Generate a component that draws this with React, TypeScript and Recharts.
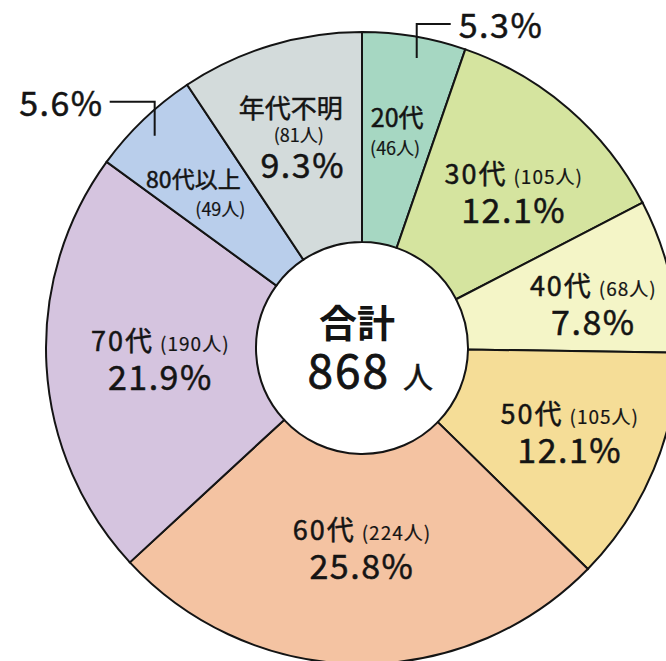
import React from "react"
import { PieChart, Pie, Cell } from "recharts"

const ageGroups = ["20代", "30代", "40代", "50代", "60代", "70代", "80代以上", "年代不明"]
const counts = [46, 105, 68, 105, 224, 190, 49, 81]
const percents = ["5.3%", "12.1%", "7.8%", "12.1%", "25.8%", "21.9%", "5.6%", "9.3%"]
const totalLabel = "868"

const colors = ["#a6d7c2", "#d5e49f", "#f4f5c7", "#f5dd97", "#f4c3a2", "#d5c4df", "#b9ceeb", "#d3dbdb"]

const data = ageGroups.map((name, i) => ({ name, value: counts[i], pct: percents[i] }))

const FONT = '"Noto Sans CJK JP", "Noto Sans", sans-serif'
const INK = "#141414"
const RAD = Math.PI / 180

// small nudges so labels sit where the original places them
const nudge: [number, number][] = [
  [0, 2], [13, 16], [25, 17], [12, 15], [3, 0], [10, 11], [-10, 7], [-5, 3],
]

// medium-ish weight: regular glyphs with a thin outline
const med = { stroke: INK, strokeWidth: 0.5, fill: INK, fontFamily: FONT }
const pctStyle = { ...med, fontSize: 34, letterSpacing: 1.5 }
const cntStyle = { fill: INK, fontFamily: FONT, fontSize: 18, stroke: INK, strokeWidth: 0.2 }

const renderLabel = (props: any) => {
  const { cx, cy, midAngle, index, payload } = props
  const r = 212
  const x = cx + r * Math.cos(-midAngle * RAD) + nudge[index][0]
  const y = cy + r * Math.sin(-midAngle * RAD) + nudge[index][1]
  const name = payload.name
  const count = `(${payload.value}人)`
  const pct = payload.pct

  if (index === 0 || index === 6) {
    // callout outside the ring
    const right = index === 0
    const ex = cx + 294 * Math.cos(-midAngle * RAD) + (right ? 6 : -4)
    const ey = cy + 294 * Math.sin(-midAngle * RAD)
    const ty = ey - 34
    const hx = right ? ex + 34 : ex - 45
    return (
      <g>
        <path d={`M${ex},${ey} L${ex},${ty} L${hx},${ty}`} stroke={INK} strokeWidth={2} fill="none" />
        <text x={right ? hx + 8 : hx - 6} y={ty + 14} textAnchor={right ? "start" : "end"} {...pctStyle}>
          {pct}
        </text>
        {right ? (
          <>
            <text x={x} y={y - 14} textAnchor="middle" fontSize={25} {...med}>{name}</text>
            <text x={x - 2} y={y + 14} textAnchor="middle" {...cntStyle}>{count}</text>
          </>
        ) : (
          <>
            <text x={x - 12} y={y - 14} textAnchor="middle" fontSize={23} {...med}>{name}</text>
            <text x={x + 15} y={y + 14} textAnchor="middle" {...cntStyle}>{count}</text>
          </>
        )}
      </g>
    )
  }

  if (index === 7) {
    return (
      <g>
        <text x={x - 5} y={y - 30} textAnchor="middle" fontSize={26} {...med}>{name}</text>
        <text x={x + 3} y={y - 6} textAnchor="middle" {...cntStyle}>{count}</text>
        <text x={x + 7} y={y + 30} textAnchor="middle" {...pctStyle}>{pct}</text>
      </g>
    )
  }

  return (
    <g>
      <text x={x} y={y - 20} textAnchor="middle" {...med}>
        <tspan fontSize={27} letterSpacing={2}>{name}</tspan>
        <tspan fontSize={19} strokeWidth={0.2} letterSpacing={1} dx={6}>{count}</tspan>
      </text>
      <text x={x} y={y + 19} textAnchor="middle" {...pctStyle}>{pct}</text>
    </g>
  )
}

export default function App() {
  return (
    <div style={{ position: "absolute", left: 0, top: 0, width: 666, height: 661, background: "#fff", overflow: "hidden" }}>
      <PieChart width={666} height={661} margin={{ top: 0, right: 0, bottom: 0, left: 0 }}>
        <Pie
          data={data}
          dataKey="value"
          nameKey="name"
          cx={362}
          cy={348}
          innerRadius={106}
          outerRadius={316}
          startAngle={90}
          endAngle={-270}
          stroke={INK}
          strokeWidth={2}
          label={renderLabel}
          labelLine={false}
          isAnimationActive={false}
        >
          {data.map((d, i) => (
            <Cell key={d.name} fill={colors[i]} />
          ))}
        </Pie>
        <text x={357} y={337} textAnchor="middle" fontSize={38} fontWeight={700} fill={INK} fontFamily={FONT}>合計</text>
        <text x={390} y={388} textAnchor="end" fontSize={46} letterSpacing={2} {...med} strokeWidth={0.8}>{totalLabel}</text>
        <text x={403} y={388} textAnchor="start" fontSize={30} {...med}>人</text>
      </PieChart>
    </div>
  )
}
